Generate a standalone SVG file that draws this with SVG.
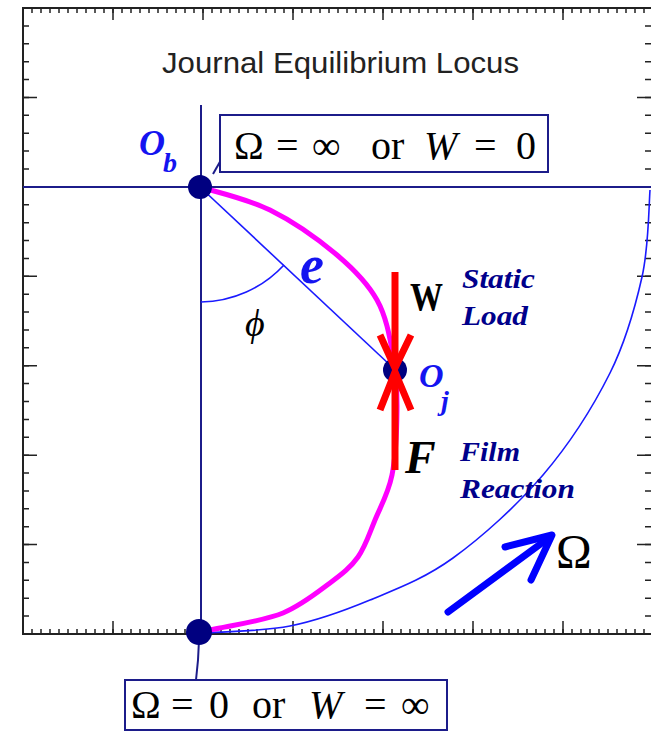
<svg xmlns="http://www.w3.org/2000/svg" width="651" height="732" viewBox="0 0 651 732">
<style>
.ax{fill:none;stroke:#222;}
.nv{fill:none;stroke:#1c1c8a;stroke-width:2;}
.box{fill:#fff;stroke:#1c1c8a;stroke-width:2;}
.dot{fill:#000080;}
.red{fill:none;stroke:#ff0000;stroke-width:7;}
.f{font-family:"Liberation Serif","DejaVu Serif",serif;fill:#000;}
.lbl{font-family:"Liberation Serif","DejaVu Serif",serif;font-style:italic;font-weight:bold;fill:#00008b;}
.bl{font-family:"Liberation Serif","DejaVu Serif",serif;font-style:italic;font-weight:bold;fill:#1414f0;}
</style>
<rect width="651" height="732" fill="#fff"/>
<g id="axes">
<rect x="23" y="8" width="630" height="626" class="ax" stroke-width="2"/>
<line x1="22.25" y1="631.5" x2="654" y2="631.5" class="ax" stroke-width="5" stroke-dasharray="1.5 7.5"/>
<line x1="22.25" y1="627.5" x2="654" y2="627.5" class="ax" stroke-width="13" stroke-dasharray="1.5 88.5"/>
<line x1="22.25" y1="10.5" x2="654" y2="10.5" class="ax" stroke-width="5" stroke-dasharray="1.5 7.5"/>
<line x1="22.25" y1="14" x2="654" y2="14" class="ax" stroke-width="12" stroke-dasharray="1.5 88.5"/>
<line x1="26" y1="7.25" x2="26" y2="635" class="ax" stroke-width="6" stroke-dasharray="1.5 16.386"/>
<line x1="30" y1="7.25" x2="30" y2="635" class="ax" stroke-width="14" stroke-dasharray="1.5 87.93"/>
<line x1="648" y1="7.25" x2="648" y2="635" class="ax" stroke-width="6" stroke-dasharray="1.5 16.386"/>
<line x1="644" y1="7.25" x2="644" y2="635" class="ax" stroke-width="14" stroke-dasharray="1.5 87.93"/>
</g>
<text x="162" y="73" font-family="Liberation Sans, Arial, sans-serif" font-size="30" fill="#222" textLength="357" lengthAdjust="spacingAndGlyphs">Journal Equilibrium Locus</text>
<g id="connectors">
<line x1="23" y1="187" x2="651" y2="187" class="nv"/>
<line x1="201" y1="105" x2="201" y2="632" class="nv"/>
<polyline points="199,640 198,660 196,680" class="nv"/>
<line x1="213" y1="174" x2="221" y2="160" class="nv" stroke-width="1.5"/>
<line x1="200" y1="187" x2="390" y2="365" stroke="#1a1aff" stroke-width="1.6"/>
<path d="M201,302 A115,115 0 0 0 284,265" fill="none" stroke="#1a1aff" stroke-width="1.6"/>
<path d="M205,633 C219.2,631.8 262.5,631.5 290,626 C317.5,620.5 342.8,611.3 370,600 C397.2,588.7 424.2,578.8 453,558 C481.8,537.2 516.8,505.8 543,475 C569.2,444.2 593.5,406 610,373 C626.5,340 635.3,306.7 642,277 C648.7,247.3 648.7,208.7 650,190" fill="none" stroke="#1a1aff" stroke-width="1.6"/>
<path d="M200,187 C211.7,190.8 247.2,198.7 270,210 C292.8,221.3 319.2,240 337,255 C354.8,270 367.7,283.3 377,300 C386.3,316.7 389.7,336.7 393,355 C396.3,373.3 397.2,390 397,410 C396.8,430 395.7,456.7 392,475 C388.3,493.3 380.7,506.3 375,520 C369.3,533.7 365.5,546.5 358,557 C350.5,567.5 342.5,573.7 330,583 C317.5,592.3 301.3,605.5 283,613 C264.7,620.5 233,625.2 220,628 C207,630.8 207.5,629.7 205,630" fill="none" stroke="#ff00ff" stroke-width="5"/>
</g>
<g id="node-ob"><circle cx="200" cy="187" r="12" class="dot"/>
<text x="139" y="155" class="bl" font-size="36">O</text><text x="163" y="172" class="bl" font-size="28">b</text></g>
<g id="node-bottom"><circle cx="199" cy="632" r="13" class="dot"/></g>
<g id="node-oj"><circle cx="395" cy="370" r="12" class="dot"/>
<text x="419" y="387" class="bl" font-size="34" font-weight="normal">O</text><text x="441" y="410" class="bl" font-size="28" font-weight="normal">j</text></g>
<g id="forces">
<line x1="395" y1="272" x2="395" y2="366" class="red"/>
<polyline points="380,335 395,368 411,335" class="red"/>
<line x1="395" y1="374" x2="395" y2="470" class="red"/>
<polyline points="380,410 395,372 411,410" class="red"/>
<text x="410" y="310" class="f" font-size="40" font-weight="bold" textLength="33" lengthAdjust="spacingAndGlyphs">W</text>
<text x="405" y="473" class="f" font-size="46" font-weight="bold" font-style="italic">F</text>
<text x="462" y="288" class="lbl" font-size="27" textLength="73" lengthAdjust="spacingAndGlyphs">Static</text>
<text x="462" y="325" class="lbl" font-size="27" textLength="66" lengthAdjust="spacingAndGlyphs">Load</text>
<text x="460" y="461" class="lbl" font-size="27" textLength="60" lengthAdjust="spacingAndGlyphs">Film</text>
<text x="460" y="498" class="lbl" font-size="27" textLength="115" lengthAdjust="spacingAndGlyphs">Reaction</text>
</g>
<text x="300" y="283" class="bl" font-size="54">e</text>
<text x="245" y="336" class="f" font-size="38" font-style="italic">ϕ</text>
<g id="omega-arrow">
<line x1="448" y1="612" x2="550" y2="537" stroke="#0000ff" stroke-width="7" stroke-linecap="round"/>
<polyline points="505,547 552,535 531,580" fill="none" stroke="#0000ff" stroke-width="7" stroke-linecap="round" stroke-linejoin="round"/>
<text x="556" y="568" class="f" font-size="48">Ω</text>
</g>
<g id="box-top"><rect x="220" y="115" width="328" height="57" class="box"/>
<text y="159" class="f" font-size="40"><tspan x="234">Ω</tspan><tspan x="276">=</tspan><tspan x="312">∞</tspan><tspan x="371">or</tspan><tspan x="424" font-style="italic">W</tspan><tspan x="474">=</tspan><tspan x="516">0</tspan></text></g>
<g id="box-bottom"><rect x="125" y="680" width="322" height="50" class="box"/>
<text y="718" class="f" font-size="40"><tspan x="131">Ω</tspan><tspan x="171">=</tspan><tspan x="209">0</tspan><tspan x="252">or</tspan><tspan x="309" font-style="italic">W</tspan><tspan x="364">=</tspan><tspan x="401">∞</tspan></text></g>
</svg>
